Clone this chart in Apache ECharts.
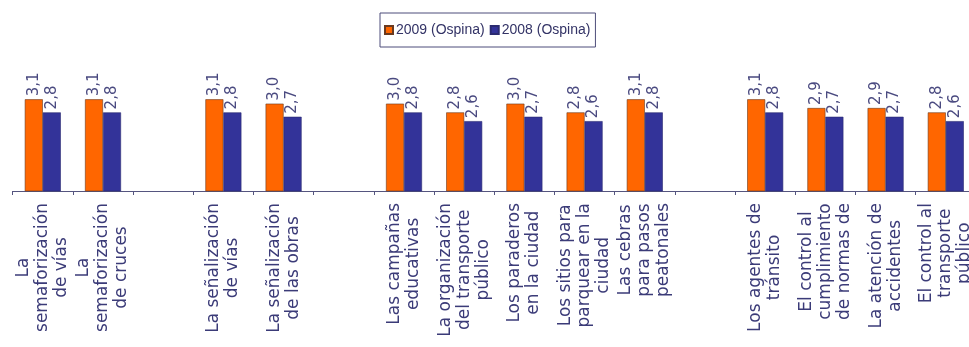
<!DOCTYPE html>
<html>
<head>
<meta charset="utf-8">
<script src="https://cdn.jsdelivr.net/npm/echarts@6/dist/echarts.min.js"></script>
<style>
html,body{margin:0;padding:0;background:#fff;}
#chart{width:969px;height:347px;}
</style>
</head>
<body>
<div id="chart"></div>
<script>
const categories = [
  'La\nsemaforización\nde vías',
  'La\nsemaforización\nde cruces',
  '',
  'La señalización\nde vías',
  'La señalización\nde las obras',
  '',
  'Las campañas\neducativas',
  'La organización\ndel transporte\npúblico',
  'Los paraderos\nen la ciudad',
  'Los sitios para\nparquear en la\nciudad',
  'Las cebras\npara pasos\npeatonales',
  '',
  'Los agentes de\ntránsito',
  'El control al\ncumplimiento\nde normas de',
  'La atención de\naccidentes',
  'El control al\ntransporte\npúblico'
];
const seriesNames = ['2009 (Ospina)', '2008 (Ospina)'];
const values2009 = [3.1, 3.1, '-', 3.1, 3.0, '-', 3.0, 2.8, 3.0, 2.8, 3.1, '-', 3.1, 2.9, 2.9, 2.8];
const values2008 = [2.8, 2.8, '-', 2.8, 2.7, '-', 2.8, 2.6, 2.7, 2.6, 2.8, '-', 2.8, 2.7, 2.7, 2.6];

const chart = echarts.init(document.getElementById('chart'), null, {renderer: 'canvas'});
const textColor = '#3b3b78';
const labelStyle = {
  show: true,
  position: 'top',
  rotate: 90,
  align: 'left',
  verticalAlign: 'middle',
  distance: 3,
  fontFamily: 'DejaVu Sans',
  fontSize: 15,
  color: '#4a4a80',
  formatter: p => (typeof p.value === 'number') ? p.value.toFixed(1).replace('.', ',') : ''
};
chart.setOption({
  backgroundColor: '#ffffff',
  animation: false,
  legend: {
    data: seriesNames,
    left: 380,
    top: 13,
    orient: 'horizontal',
    icon: 'rect',
    itemWidth: 8,
    itemHeight: 8,
    itemGap: 5,
    padding: [10, 5, 10, 4],
    borderColor: '#4d4d7a',
    borderWidth: 1,
    backgroundColor: '#ffffff',
    textStyle: {fontFamily: 'Liberation Sans', fontSize: 14, color: '#333366', padding: [0, 0, 0, -2]}
  },
  grid: {
    left: 12.7,
    width: 963.2,
    top: 60,
    height: 131,
    containLabel: false,
    outerBoundsMode: 'none'
  },
  xAxis: {
    type: 'category',
    data: categories,
    boundaryGap: true,
    axisLine: {show: true, lineStyle: {color: '#55557f', width: 1}},
    axisTick: {show: true, length: 4, lineStyle: {color: '#55557f'}},
    axisLabel: {
      interval: 0,
      rotate: 90,
      margin: 12,
      hideOverlap: false,
      fontFamily: 'DejaVu Sans',
      fontSize: 17,
      color: textColor,
      lineHeight: 19,
      formatter: v => v ? v.split('\n').map(s => '{c|' + s + '}').join('\n') : '',
      rich: {
        c: {align: 'center', fontFamily: 'DejaVu Sans', fontSize: 17, lineHeight: 19, color: textColor}
      }
    },
    splitLine: {show: false}
  },
  yAxis: {
    type: 'value',
    min: 1,
    max: 4,
    show: false,
    splitLine: {show: false}
  },
  series: [
    {
      name: seriesNames[0],
      type: 'bar',
      data: values2009,
      barWidth: 18,
      barGap: '0%',
      itemStyle: {color: '#ff6600', borderColor: '#6a3a20', borderWidth: 0.6},
      label: labelStyle
    },
    {
      name: seriesNames[1],
      type: 'bar',
      data: values2008,
      barWidth: 18,
      barGap: '0%',
      itemStyle: {color: '#333399', borderColor: '#2a2a70', borderWidth: 0.6},
      label: labelStyle
    }
  ]
});
</script>
</body>
</html>
